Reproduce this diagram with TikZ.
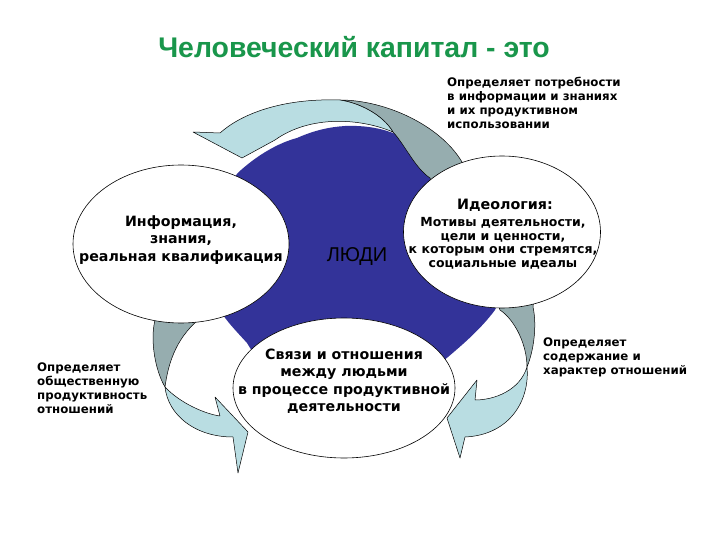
\documentclass[tikz,border=0pt]{standalone}
\usepackage{fontspec}
\setmainfont{DejaVu Sans}
\newfontfamily\arialf{Liberation Sans}
\usetikzlibrary{shapes.geometric}
\definecolor{bluec}{RGB}{51,51,153}
\definecolor{lblue}{RGB}{185,221,226}
\definecolor{gback}{RGB}{150,173,175}
\definecolor{titleg}{RGB}{25,150,75}
\begin{document}
\begin{tikzpicture}[x=1pt,y=-1pt,
  ell/.style={draw=black, line width=0.6pt, fill=white, ellipse, inner sep=0pt},
  arrowfront/.style={fill=lblue, draw=black, line width=0.5pt, line join=round},
  arrowback/.style={fill=gback, draw=black, line width=0.5pt, line join=round},
  bigtxt/.style={font=\fontsize{14.2}{17.5}\selectfont\bfseries, align=center, inner sep=0pt},
  smalltxt/.style={font=\fontsize{11.8}{13.9}\selectfont\bfseries, align=left, inner sep=0pt},
  midtxt/.style={font=\fontsize{12.5}{13.6}\selectfont\bfseries, align=center, inner sep=0pt},
]
\useasboundingbox (0,0) rectangle (720,540);

% title
\node[font=\arialf\bfseries\fontsize{28.4}{31}\selectfont, text=titleg, inner sep=0pt] (title) at (354,47) {Человеческий капитал - это};

% central blue shape
\fill[bluec] (222,205) .. controls (228,185) and (234,176) .. (241,170)
  .. controls (258,155) and (278,143) .. (297,138)
  .. controls (315,130) and (330,127) .. (345,126)
  .. controls (370,125) and (395,130) .. (415,145)
  .. controls (440,165) and (470,200) .. (490,260)
  .. controls (500,290) and (500,300) .. (495,310)
  .. controls (480,330) and (462,345) .. (448,357)
  -- (420,380) -- (270,380) -- (247,343)
  .. controls (238,333) and (230,325) .. (223,315) -- (210,300) -- cycle;

% top arrow
\draw[arrowback] (340,100) .. controls (385,100) and (440,125) .. (462,162) -- (470,178) -- (436,192) -- (430,178)
  .. controls (415,168) and (405,145) .. (393,132) .. controls (383,115) and (360,103) .. (340,100) -- cycle;
\draw[arrowfront] (193,132) -- (220,133) .. controls (240,115) and (280,98) .. (340,100)
  .. controls (360,103) and (383,115) .. (393,132)
  .. controls (360,118) and (310,115) .. (275,140) -- (242,158) -- cycle;

% left arrow
\draw[arrowback] (157,305) -- (155,320) .. controls (150,340) and (155,370) .. (165,387)
  .. controls (168,365) and (175,340) .. (198,320) -- (203,305) -- cycle;
\draw[arrowfront] (165,387) .. controls (168,415) and (195,437) .. (233,437) -- (238,473) -- (248,432) -- (215,397) -- (220,416)
  .. controls (205,414) and (180,403) .. (165,387) -- cycle;

% right arrow
\draw[arrowback] (496,300) -- (500,310) .. controls (515,320) and (527,345) .. (527,367)
  .. controls (534,350) and (537,325) .. (533,307) -- (534,298) -- cycle;
\draw[arrowfront] (527,367) .. controls (530,400) and (510,435) .. (465,437) -- (460,458) -- (447,418) -- (477,380) -- (475,400)
  .. controls (495,400) and (520,390) .. (527,367) -- cycle;

% ellipses
\node[ell, minimum width=216pt, minimum height=158pt] (info) at (181,244) {};
\node[ell, minimum width=197pt, minimum height=152pt] (ideo) at (502,232) {};
\node[ell, minimum width=222pt, minimum height=140pt] (links) at (344,388) {};

% texts
\node[bigtxt] (infotext) at (181,240) {Информация,\\знания,\\реальная квалификация};
\node[font=\fontsize{14.3}{16}\selectfont\bfseries, inner sep=0pt] (ideohead) at (505,205) {Идеология:};
\node[midtxt] (ideotext) at (503,243.5) {Мотивы деятельности,\\цели и ценности,\\к которым они стремятся,\\социальные идеалы};
\node[bigtxt] (linkstext) at (344,381) {Связи и отношения\\между людьми\\в процессе продуктивной\\деятельности};
\node[font=\arialf\fontsize{20}{22}\selectfont, inner sep=0pt] (people) at (357,257) {ЛЮДИ};

\node[smalltxt, anchor=west] (toptext) at (447,103) {Определяет потребности\\в информации и знаниях\\и их продуктивном\\использовании};
\node[smalltxt, anchor=west] (lefttext) at (37,388) {Определяет\\общественную\\продуктивность\\отношений};
\node[smalltxt, anchor=west] (righttext) at (543,357) {Определяет\\содержание и\\характер отношений};
\end{tikzpicture}
\end{document}
